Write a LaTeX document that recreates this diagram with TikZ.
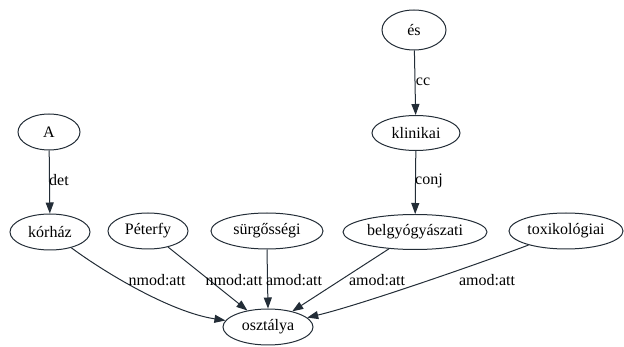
\documentclass[tikz,border=0pt]{standalone}
\usepackage{fontspec}
\setmainfont{Liberation Serif}
\usetikzlibrary{shapes.geometric,arrows.meta}
\definecolor{ink}{RGB}{35,45,55}
\tikzset{
  x=1pt,y=-1pt,
  word/.style={ellipse,draw=ink,line width=1pt,inner sep=0pt,font=\fontsize{16}{18}\selectfont},
  lbl/.style={inner sep=0pt,font=\fontsize{16}{18}\selectfont},
  dep/.style={draw=ink,line width=1pt,-{Triangle[length=11pt,width=8pt]}}
}
\begin{document}
\begin{tikzpicture}
\useasboundingbox (0,0) rectangle (624,347);
\node[word,minimum width=64pt,minimum height=40pt] (es) at (414,30) {és};
\node[word,minimum width=88pt,minimum height=35pt] (klinikai) at (416,133) {klinikai};
\node[word,minimum width=62pt,minimum height=36pt] (A) at (49,132) {A};
\node[word,minimum width=80pt,minimum height=36pt] (korhaz) at (50,232) {kórház};
\node[word,minimum width=80pt,minimum height=36pt] (peterfy) at (148,231) {Péterfy};
\node[word,minimum width=112pt,minimum height=36pt] (surg) at (267,231) {sürgősségi};
\node[word,minimum width=144pt,minimum height=35pt] (belgy) at (415,232) {belgyógyászati};
\node[word,minimum width=114pt,minimum height=36pt] (tox) at (566,231) {toxikológiai};
\node[word,minimum width=90pt,minimum height=36pt] (oszt) at (268,327) {osztálya};

\draw[dep] (es) -- (klinikai);
\draw[dep] (klinikai) -- (belgy);
\draw[dep] (A) -- (korhaz);
\draw[dep] (surg.south) -- (oszt.north);
\draw[dep] (korhaz) .. controls (104,272) and (170,312) .. (oszt);
\draw[dep] (peterfy) -- (oszt);
\draw[dep] (belgy) -- (oszt);
\draw[dep] (tox) .. controls (478,264) and (360,305) .. (oszt);

\node[lbl] (ldet) at (59,180) {det};
\node[lbl] (lcc) at (423,82) {cc};
\node[lbl] (lconj) at (429,181) {conj};
\node[lbl] (l1) at (157,280) {nmod:att};
\node[lbl] (l2) at (234,280) {nmod:att};
\node[lbl] (l3) at (294,280) {amod:att};
\node[lbl] (l4) at (377,280) {amod:att};
\node[lbl] (l5) at (487,280) {amod:att};
\end{tikzpicture}
\end{document}
